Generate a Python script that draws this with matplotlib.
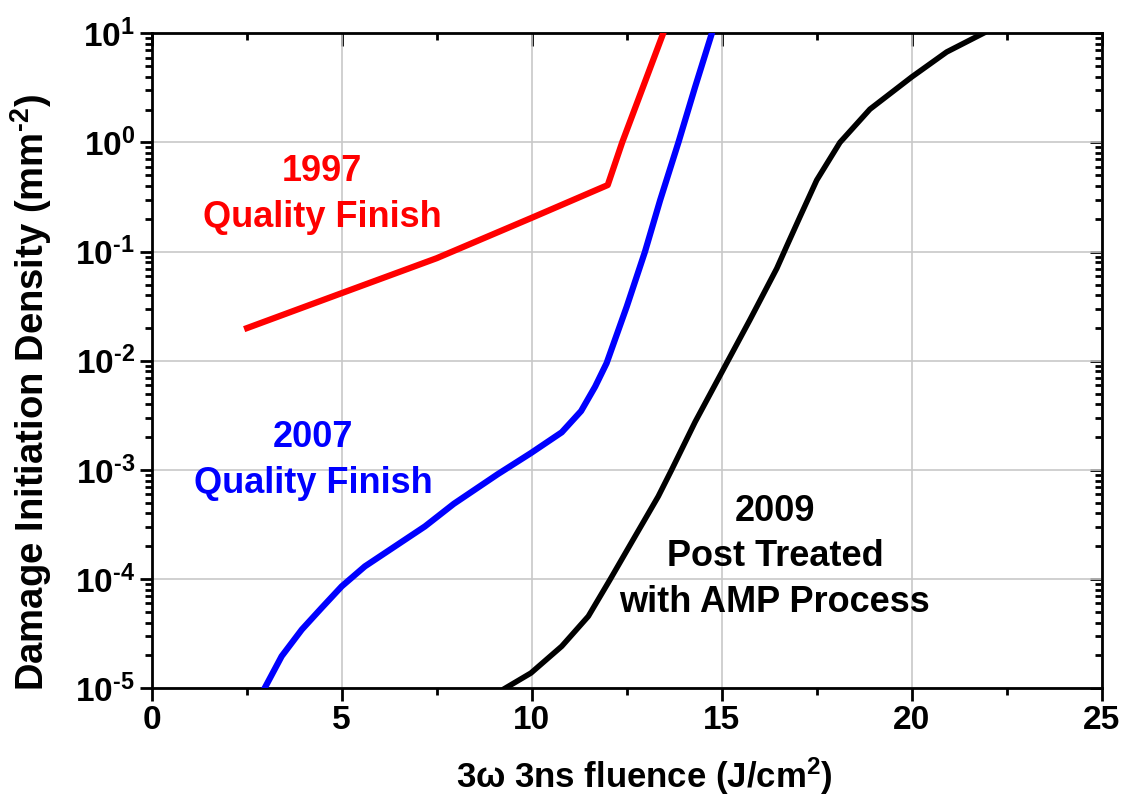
"""
3w 3ns 损伤起始密度 vs 通量 (log 轴)
"""

import numpy as np
import matplotlib.pyplot as plt
from matplotlib.ticker import MultipleLocator, LogLocator, FixedLocator, NullFormatter

# values, y given as log10(density)
# 1997 Quality Finish
red_x = [2.51, 5.0, 7.5, 10.0, 12.0, 12.38, 13.46]
red_log = [-1.70, -1.38, -1.06, -0.69, -0.39, 0.0, 1.0]

# 2007 Quality Finish
blue_x = [2.97, 3.42, 3.95, 4.47, 5.0, 5.61, 6.40, 7.19, 7.95, 9.1, 9.98, 10.79,
          11.3, 11.67, 11.97, 12.5, 12.98, 13.38, 13.86, 14.30, 14.74]
blue_log = [-5.0, -4.706, -4.462, -4.264, -4.066, -3.883, -3.700, -3.517, -3.31,
            -3.04, -2.845, -2.655, -2.46, -2.236, -2.022, -1.504, -1.001, -0.528,
            0.0, 0.509, 1.0]

# 2009 Post Treated with AMP Process
black_x = [9.3, 9.98, 10.79, 11.49, 12.06, 12.72, 13.33, 13.68, 14.3, 15.74, 16.45,
           16.71, 17.06, 17.5, 18.11, 18.9, 20.0, 20.92, 21.88]
black_log = [-5.0, -4.86, -4.615, -4.34, -4.005, -3.608, -3.242, -3.0, -2.56, -1.626,
             -1.153, -0.95, -0.68, -0.345, 0.0, 0.305, 0.60, 0.829, 1.0]

y_ticks = [1e-5, 1e-4, 1e-3, 1e-2, 1e-1, 1e0, 1e1]
y_tick_labels = [r"$10^{\text{-5}}$", r"$10^{\text{-4}}$", r"$10^{\text{-3}}$",
                 r"$10^{\text{-2}}$", r"$10^{\text{-1}}$", r"$10^{0}$", r"$10^{1}$"]
x_ticks = [0, 5, 10, 15, 20, 25]

plt.rcParams["font.family"] = ["Liberation Sans", "DejaVu Sans"]
plt.rcParams["font.weight"] = "bold"
plt.rcParams["mathtext.fontset"] = "custom"
plt.rcParams["mathtext.rm"] = "Liberation Sans:bold"
plt.rcParams["mathtext.bf"] = "Liberation Sans:bold"
plt.rcParams["mathtext.it"] = "Liberation Sans:bold:italic"
plt.rcParams["mathtext.default"] = "bf"

fig = plt.figure(figsize=(11.33, 8.01), dpi=100)
ax = fig.add_axes([0.1339, 0.1407, 0.8385, 0.8177])

ax.plot(red_x, 10 ** np.array(red_log), color="#ff0000", lw=4.5, zorder=3)
ax.plot(blue_x, 10 ** np.array(blue_log), color="#0000ff", lw=4.5, zorder=3)
ax.plot(black_x, 10 ** np.array(black_log), color="black", lw=4, zorder=3)

ax.set_yscale("log")
ax.set_xlim(0, 25)
ax.set_ylim(1e-5, 10)

ax.set_xticks(x_ticks)
ax.set_xticklabels([str(t) for t in x_ticks])
ax.xaxis.set_minor_locator(MultipleLocator(2.5))
ax.set_yticks(y_ticks)
ax.set_yticklabels(y_tick_labels)
ax.yaxis.set_minor_locator(LogLocator(base=10, subs=range(2, 10), numticks=20))
ax.yaxis.set_minor_formatter(NullFormatter())

ax.grid(True, which="major", color="#c8c8c8", lw=1.2, zorder=0)
for s in ax.spines.values():
    s.set_linewidth(2)

ax.tick_params(which="major", direction="out", length=9, width=2, labelsize=24, pad=3)
ax.tick_params(which="minor", direction="out", length=5, width=2)

# mirrored ticks pointing inward on top and right
top = ax.secondary_xaxis("top")
top.xaxis.set_major_locator(FixedLocator(x_ticks))
top.xaxis.set_minor_locator(MultipleLocator(2.5))
top.tick_params(which="major", direction="in", length=9, width=2, labeltop=False)
top.tick_params(which="minor", direction="in", length=5, width=2)
right = ax.secondary_yaxis("right")
right.yaxis.set_major_locator(FixedLocator(y_ticks))
right.yaxis.set_minor_locator(LogLocator(base=10, subs=range(2, 10), numticks=20))
right.yaxis.set_minor_formatter(NullFormatter())
right.tick_params(which="major", direction="in", length=9, width=2, labelright=False)
right.tick_params(which="minor", direction="in", length=5, width=2)

ax.set_xlabel(r"3ω 3ns fluence (J/cm$^{2}$)", fontsize=25, fontweight="bold")
ax.set_ylabel(r"Damage Initiation Density (mm$^{\text{-2}}$)", fontsize=27.5, fontweight="bold")
ax.xaxis.set_label_coords(0.519, -0.102)
ax.yaxis.set_label_coords(-0.103, 0.452)

ax.text(4.48, 0.333, "1997\nQuality Finish", color="#ff0000", fontsize=26,
        fontweight="bold", ha="center", va="center", linespacing=1.4)
ax.text(4.25, 1.23e-3, "2007\nQuality Finish", color="#0000ff", fontsize=26,
        fontweight="bold", ha="center", va="center", linespacing=1.4)
ax.text(16.4, 1.6e-4, "2009\nPost Treated\nwith AMP Process", color="black", fontsize=26,
        fontweight="bold", ha="center", va="center", linespacing=1.4)

plt.savefig("out.png", dpi=100)
